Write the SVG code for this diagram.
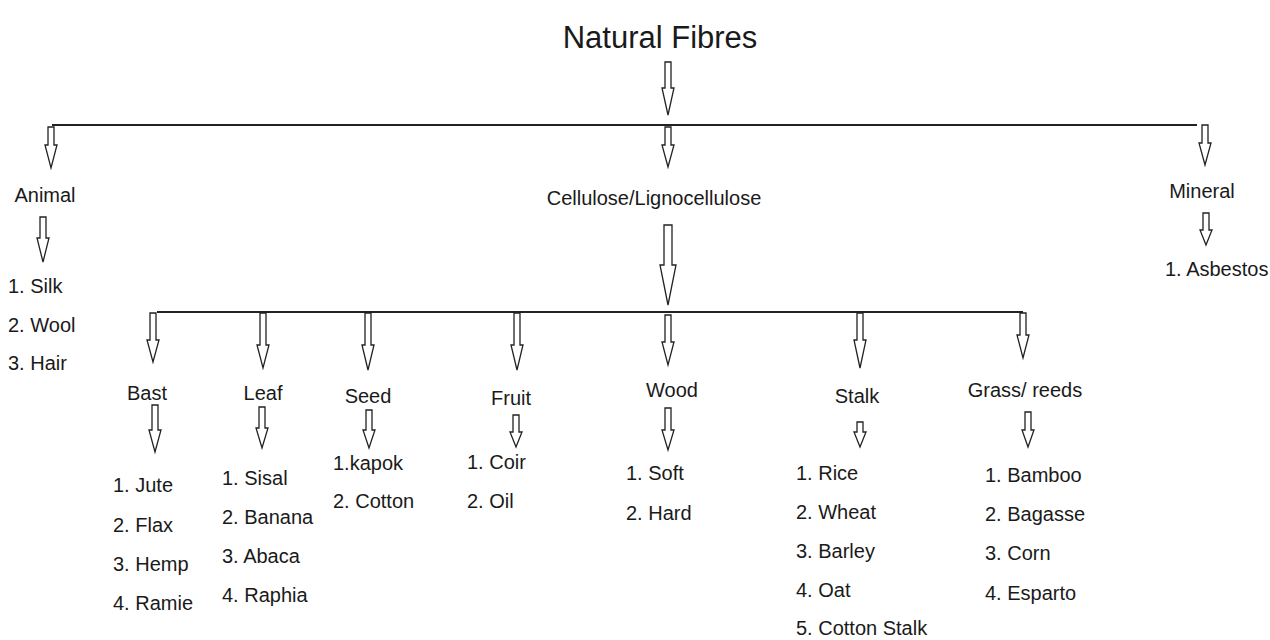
<svg xmlns="http://www.w3.org/2000/svg" width="1270" height="640" viewBox="0 0 1270 640">
<style>
text{font-family:"Liberation Sans",Arial,sans-serif;fill:#1a1a1a;font-size:20px}
.t{font-size:31px}
.m{text-anchor:middle}
.ln{stroke:#222;stroke-width:2;fill:none}
.ar{fill:#fff;stroke:#222;stroke-width:1.3;stroke-linejoin:miter}
</style>
<rect width="1270" height="640" fill="#fff"/>
<g id="connectors">
<path class="ln" d="M52 125H1197"/>
<path class="ln" d="M157 312H1023"/>
<path class="ar" d="M665 62H671V88H674L668 115L662 88H665Z"/>
<path class="ar" d="M665 127H671V145H674L668 167L662 145H665Z"/>
<path class="ar" d="M48 127H54V145H57L51 168L45 145H48Z"/>
<path class="ar" d="M1202 125H1208V143H1211L1205 165L1199 143H1202Z"/>
<path class="ar" d="M40 217H46V238H49L43 262L37 238H40Z"/>
<path class="ar" d="M1203 213H1209V230H1212L1206 245L1200 230H1203Z"/>
<path class="ar" d="M664 225H672V265H676L668 305L660 265H664Z"/>
<path class="ar" d="M150 313H156V340H159L153 362L147 340H150Z"/>
<path class="ar" d="M260 313H266V345H269L263 368L257 345H260Z"/>
<path class="ar" d="M365 313H371V345H374L368 370L362 345H365Z"/>
<path class="ar" d="M514 313H520V345H523L517 370L511 345H514Z"/>
<path class="ar" d="M665 315H671V342H674L668 365L662 342H665Z"/>
<path class="ar" d="M857 313H863V340H866L860 368L854 340H857Z"/>
<path class="ar" d="M1020 313H1026V335H1029L1023 358L1017 335H1020Z"/>
<path class="ar" d="M152 405H158V430H161L155 452L149 430H152Z"/>
<path class="ar" d="M259 407H265V428H268L262 448L256 428H259Z"/>
<path class="ar" d="M366 410H372V430H375L369 448L363 430H366Z"/>
<path class="ar" d="M513 415H519V432H522L516 447L510 432H513Z"/>
<path class="ar" d="M665 408H671V430H674L668 450L662 430H665Z"/>
<path class="ar" d="M857 422H863V432H866L860 447L854 432H857Z"/>
<path class="ar" d="M1025 412H1031V430H1034L1028 447L1022 430H1025Z"/>
</g>
<g id="root"><text class="t m" x="660" y="48">Natural Fibres</text></g>
<g id="animal"><text class="m" x="45" y="202">Animal</text>
<text x="8" y="293">1. Silk</text><text x="8" y="332">2. Wool</text><text x="8" y="370">3. Hair</text></g>
<g id="cellulose"><text class="m" x="654" y="205">Cellulose/Lignocellulose</text></g>
<g id="mineral"><text class="m" x="1202" y="198">Mineral</text><text x="1165" y="276">1. Asbestos</text></g>
<g id="bast"><text class="m" x="147" y="400">Bast</text>
<text x="113" y="492">1. Jute</text><text x="113" y="532">2. Flax</text><text x="113" y="571">3. Hemp</text><text x="113" y="610">4. Ramie</text></g>
<g id="leaf"><text class="m" x="263" y="400">Leaf</text>
<text x="222" y="485">1. Sisal</text><text x="222" y="524">2. Banana</text><text x="222" y="563">3. Abaca</text><text x="222" y="602">4. Raphia</text></g>
<g id="seed"><text class="m" x="368" y="403">Seed</text>
<text x="333" y="470">1.kapok</text><text x="333" y="508">2. Cotton</text></g>
<g id="fruit"><text class="m" x="511" y="405">Fruit</text>
<text x="467" y="469">1. Coir</text><text x="467" y="508">2. Oil</text></g>
<g id="wood"><text class="m" x="672" y="397">Wood</text>
<text x="626" y="480">1. Soft</text><text x="626" y="520">2. Hard</text></g>
<g id="stalk"><text class="m" x="857" y="403">Stalk</text>
<text x="796" y="480">1. Rice</text><text x="796" y="519">2. Wheat</text><text x="796" y="558">3. Barley</text><text x="796" y="597">4. Oat</text><text x="796" y="635">5. Cotton Stalk</text></g>
<g id="grass"><text class="m" x="1025" y="397">Grass/ reeds</text>
<text x="985" y="482">1. Bamboo</text><text x="985" y="521">2. Bagasse</text><text x="985" y="560">3. Corn</text><text x="985" y="600">4. Esparto</text></g>
</svg>
